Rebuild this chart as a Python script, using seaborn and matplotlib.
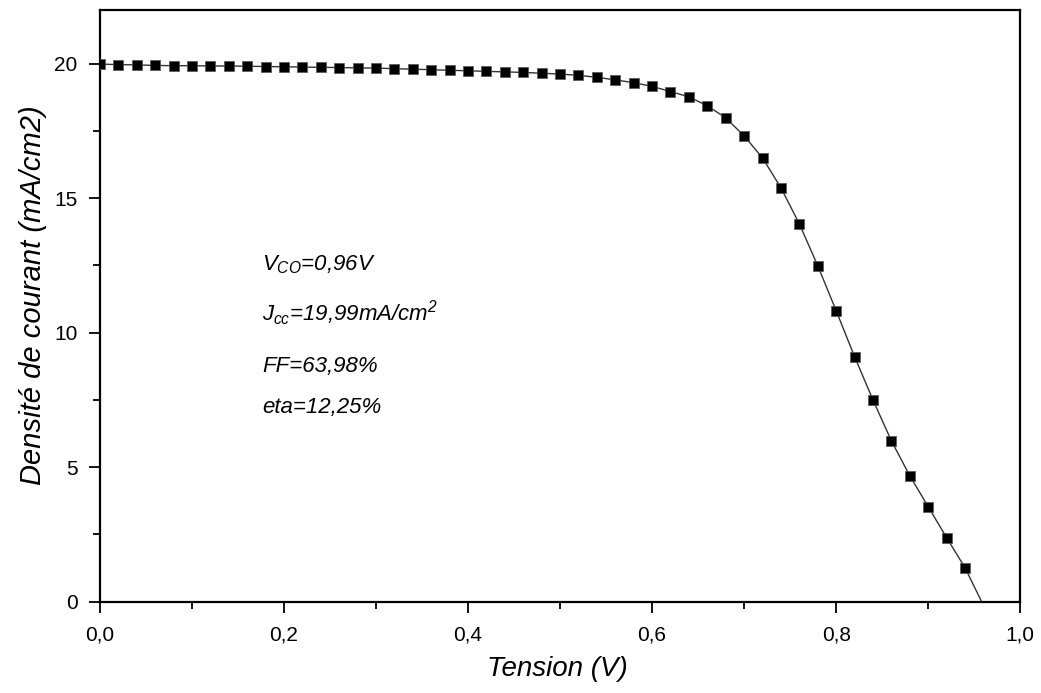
import matplotlib
matplotlib.use("Agg")
import matplotlib.pyplot as plt
from matplotlib.ticker import MultipleLocator, FuncFormatter
import pandas as pd
import seaborn as sns

# measured points (V, mA/cm2)
tension = [0.00, 0.02, 0.04, 0.06, 0.08, 0.10, 0.12, 0.14, 0.16, 0.18,
           0.20, 0.22, 0.24, 0.26, 0.28, 0.30, 0.32, 0.34, 0.36, 0.38,
           0.40, 0.42, 0.44, 0.46, 0.48, 0.50, 0.52, 0.54, 0.56, 0.58,
           0.60, 0.62, 0.64, 0.66, 0.68, 0.70, 0.72, 0.74, 0.76, 0.78,
           0.80, 0.82, 0.84, 0.86, 0.88, 0.90, 0.92, 0.94]
densite = [19.99, 19.97, 19.96, 19.94, 19.93, 19.93, 19.92, 19.92, 19.91, 19.90,
           19.89, 19.88, 19.87, 19.86, 19.85, 19.84, 19.82, 19.80, 19.78, 19.76,
           19.74, 19.72, 19.70, 19.68, 19.65, 19.62, 19.57, 19.50, 19.40, 19.30,
           19.16, 18.97, 18.77, 18.44, 17.99, 17.32, 16.50, 15.39, 14.05, 12.49,
           10.82, 9.11, 7.50, 5.98, 4.68, 3.53, 2.38, 1.26]

# open-circuit point where the fitted curve ends
v_oc = 0.958
j_oc = 0.0

annotations = [r"$V_{CO}$=0,96V", r"$J_{cc}$=19,99mA/cm$^{2}$", "FF=63,98%", "eta=12,25%"]
annot_y = [12.3, 10.45, 8.55, 7.0]

sns.set_style("ticks")
plt.rcParams["font.family"] = ["Liberation Sans", "DejaVu Sans"]
plt.rcParams["mathtext.fontset"] = "custom"
plt.rcParams["mathtext.it"] = "Liberation Sans:italic"
plt.rcParams["mathtext.rm"] = "Liberation Sans:italic"
for key in ["text.color", "axes.labelcolor", "xtick.color", "ytick.color", "axes.edgecolor"]:
    plt.rcParams[key] = "black"

points = pd.DataFrame({"V": tension, "J": densite})
curve = pd.DataFrame({"V": tension + [v_oc], "J": densite + [j_oc]})

fig = plt.figure(figsize=(10.41, 6.93), dpi=100)
ax = fig.add_axes([0.096, 0.132, 0.884, 0.8535])

sns.lineplot(data=curve, x="V", y="J", ax=ax, color="#333333", linewidth=1.0, sort=False)
sns.scatterplot(data=points, x="V", y="J", ax=ax, marker="s", s=45, color="black",
                edgecolor="#555555", linewidth=0.5, zorder=3)

ax.set_xlim(0, 1.0)
ax.set_ylim(0, 22)
ax.xaxis.set_major_locator(MultipleLocator(0.2))
ax.xaxis.set_minor_locator(MultipleLocator(0.1))
ax.yaxis.set_major_locator(MultipleLocator(5))
ax.yaxis.set_minor_locator(MultipleLocator(2.5))
ax.xaxis.set_major_formatter(FuncFormatter(lambda v, p: f"{v:.1f}".replace(".", ",")))
ax.yaxis.set_major_formatter(FuncFormatter(lambda v, p: f"{v:.0f}"))

ax.tick_params(which="major", direction="out", length=8, width=1.3, labelsize=15)
ax.tick_params(axis="x", which="major", pad=9)
ax.tick_params(axis="y", which="major", pad=8)
ax.tick_params(which="minor", direction="out", length=5, width=1.3)
for sp in ax.spines.values():
    sp.set_linewidth(1.6)
    sp.set_visible(True)

ax.set_xlabel("Tension (V)", fontsize=20, style="italic")
ax.set_ylabel("Densité de courant (mA/cm2)", fontsize=21, style="italic")
ax.xaxis.set_label_coords(0.497, -0.092)
ax.yaxis.set_label_coords(-0.057, 0.518)

for txt, yy in zip(annotations, annot_y):
    ax.text(0.176, yy, txt, fontsize=16, style="italic", va="baseline", ha="left")

fig.savefig("out.png", dpi=100)
